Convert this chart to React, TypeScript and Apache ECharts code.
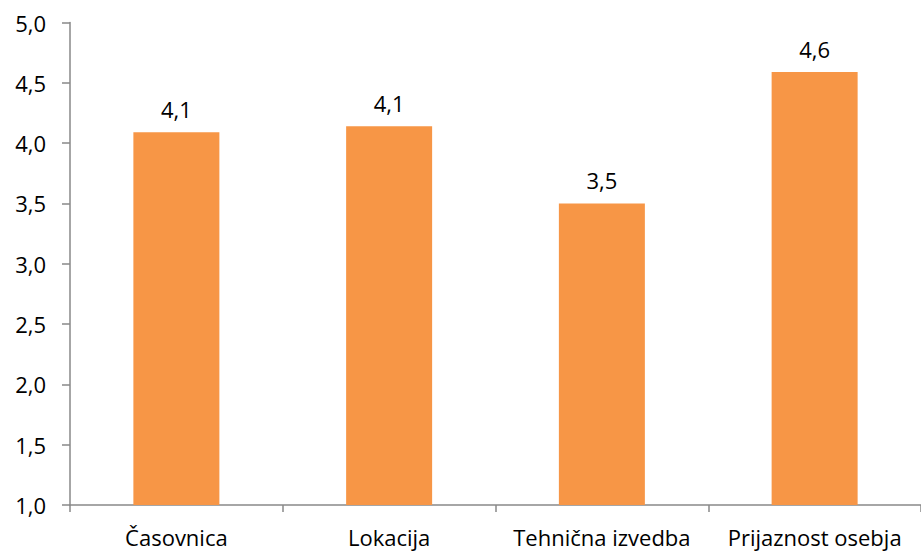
import React, { useEffect, useRef } from "react";
import * as echarts from "echarts";

const categories = ["Časovnica", "Lokacija", "Tehnična izvedba", "Prijaznost osebja"];
const values = [4.09, 4.14, 3.5, 4.59];
const yMin = 1;
const yMax = 5;
const yInterval = 0.5;

export default function App() {
  const ref = useRef<HTMLDivElement>(null);
  useEffect(() => {
    if (!ref.current) return;
    const chart = echarts.init(ref.current, undefined, { renderer: "svg" });
    const font = "'Open Sans', 'Liberation Sans', sans-serif";
    chart.setOption({
      animation: false,
      grid: { left: 70, top: 22.5, width: 860, height: 482.5 },
      xAxis: {
        type: "category",
        data: categories,
        axisLine: { lineStyle: { color: "#898989", width: 1.5 } },
        axisTick: { show: true, length: 7, lineStyle: { color: "#898989", width: 1.5 } },
        axisLabel: { color: "#000", fontSize: 22, fontFamily: font, margin: 21, interval: 0 },
      },
      yAxis: {
        type: "value",
        min: yMin,
        max: yMax,
        interval: yInterval,
        splitLine: { show: false },
        axisLine: { show: true, lineStyle: { color: "#898989", width: 1.5 } },
        axisTick: { show: true, length: 8, lineStyle: { color: "#898989", width: 1.5 } },
        axisLabel: {
          color: "#000",
          fontSize: 22,
          fontFamily: font,
          margin: 24,
          formatter: (v: number) => v.toFixed(1).replace(".", ","),
        },
      },
      series: [
        {
          type: "bar",
          data: values,
          barWidth: 86,
          itemStyle: { color: "#F79646" },
          label: {
            show: true,
            position: "top",
            distance: 12,
            color: "#000",
            fontSize: 22,
            fontFamily: font,
            formatter: (p: any) => (p.value as number).toFixed(1).replace(".", ","),
          },
        },
      ],
    });
    return () => chart.dispose();
  }, []);
  return <div ref={ref} style={{ width: 921, height: 553, position: "absolute", left: 0, top: 0 }} />;
}
